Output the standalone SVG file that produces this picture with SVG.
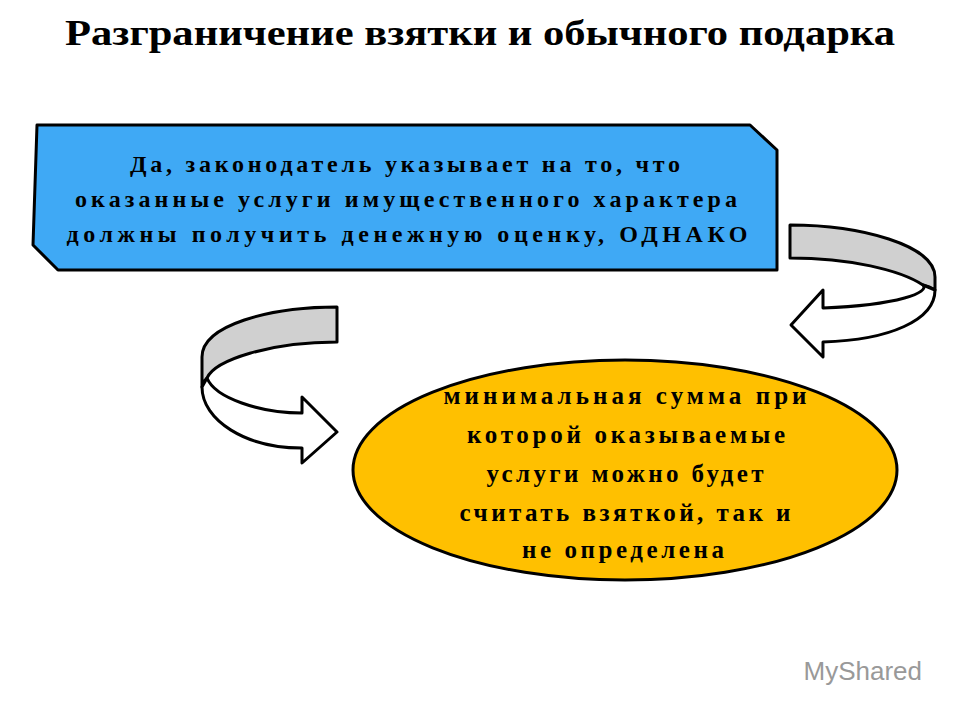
<svg xmlns="http://www.w3.org/2000/svg" width="960" height="720" viewBox="0 0 960 720">
<style>
.t{font-family:"Liberation Serif",serif;font-weight:bold;fill:#000;text-anchor:middle}
.s{stroke:#000;stroke-width:3;stroke-linejoin:round}
</style>
<rect width="960" height="720" fill="#fff"/>
<text class="t" x="480" y="45" font-size="36" textLength="830" lengthAdjust="spacingAndGlyphs">Разграничение взятки и обычного подарка</text>
<g id="connectors">
<path class="s" fill="#d0d0d0" d="M790,225 C860,225 935,245 935,277 L935,290 C932,288 928,286 923,285 C900,270 850,258 790,258 Z"/>
<path class="s" fill="#fff" d="M923,285 C930,292 900,305 823,308 L823,290 L791,325 L823,357 L823,342 C890,340 935,320 935,290 Z"/>
<path class="s" fill="#d0d0d0" d="M337,307 C270,307 202,325 202,357 L202,387 C202,384 204,381 207,378 C215,360 270,342 337,342 Z"/>
<path class="s" fill="#fff" d="M207,378 C215,398 260,413 302,413 L302,397 L337,432 L302,463 L302,448 C245,448 202,420 202,387 Z"/>
</g>
<g id="box">
<path class="s" fill="#3fa9f5" d="M37,125 L750,125 L777,150 L777,270 L58,270 L33,245 Z"/>
<text class="t" font-size="24" x="405" y="172" textLength="550" lengthAdjust="spacing">Да, законодатель указывает на то, что</text>
<text class="t" font-size="24" x="406" y="207" textLength="662" lengthAdjust="spacing">оказанные услуги имущественного характера</text>
<text class="t" font-size="24" x="407" y="242" textLength="681" lengthAdjust="spacing">должны получить денежную оценку, ОДНАКО</text>
</g>
<g id="ellipse">
<ellipse class="s" fill="#ffc000" cx="625" cy="470" rx="272" ry="110"/>
<text class="t" font-size="25" x="625" y="404" textLength="363" lengthAdjust="spacing">минимальная сумма при</text>
<text class="t" font-size="25" x="626" y="443" textLength="318" lengthAdjust="spacing">которой оказываемые</text>
<text class="t" font-size="25" x="625" y="482" textLength="277" lengthAdjust="spacing">услуги можно будет</text>
<text class="t" font-size="25" x="625" y="521" textLength="331" lengthAdjust="spacing">считать взяткой, так и</text>
<text class="t" font-size="25" x="623" y="558" textLength="202" lengthAdjust="spacing">не определена</text>
</g>
<text x="922" y="680" font-family="Liberation Sans,sans-serif" font-size="26" fill="#999" text-anchor="end">MyShared</text>
</svg>
